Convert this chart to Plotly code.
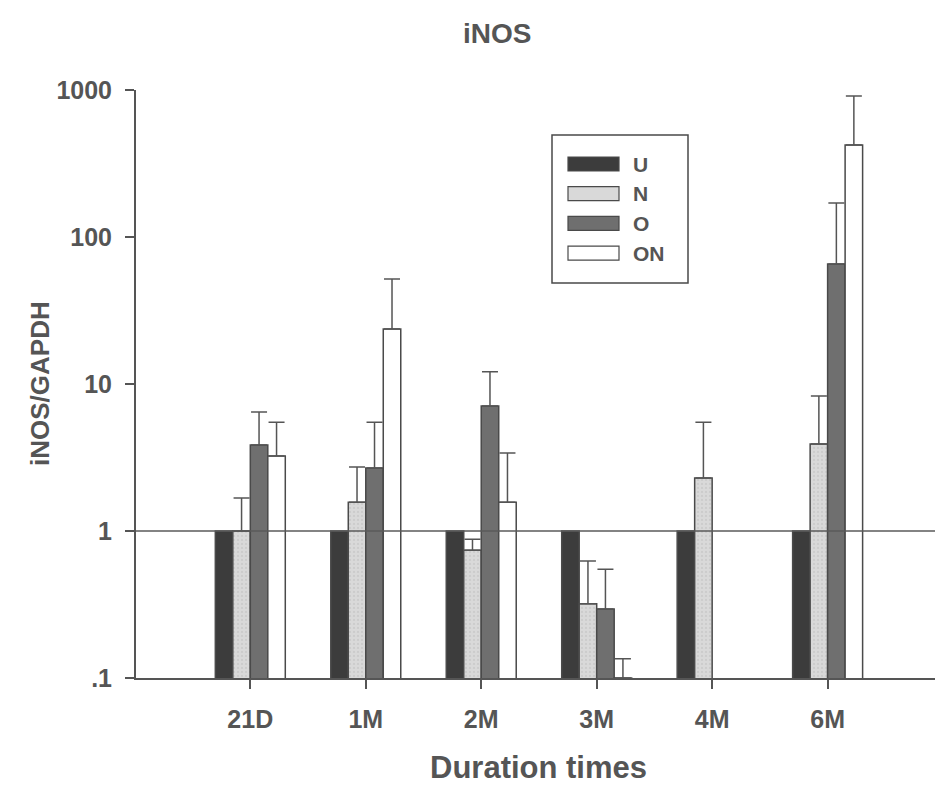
import plotly.graph_objects as go

# Sampling times and relative iNOS expression (normalised to U = 1)
durations = ["21D", "1M", "2M", "3M", "4M", "6M"]
groups = ["U", "N", "O", "ON"]

u_mean = [1, 1, 1, 1, 1, 1]
n_mean = [1.0, 1.57, 0.74, 0.32, 2.29, 3.9]
o_mean = [3.85, 2.68, 7.08, 0.295, None, 65.5]
on_mean = [3.24, 23.7, 1.57, 0.1, None, 423]

# upper limit of each error bar (mean + SD)
u_upper = [None] * 6
n_upper = [1.68, 2.72, 0.88, 0.625, 5.5, 8.3]
o_upper = [6.45, 5.5, 12.1, 0.55, None, 170]
on_upper = [5.5, 51.8, 3.39, 0.135, None, 910]

fills = ["#3c3c3c", "#d9d9d9", "#6f6f6f", "#ffffff"]
edge = "#4a4a4a"
ink = "#555555"
font_family = "Liberation Sans, Arial, sans-serif"

means = [u_mean, n_mean, o_mean, on_mean]
uppers = [u_upper, n_upper, o_upper, on_upper]

fig = go.Figure()
for name, ys, ups, col in zip(groups, means, uppers, fills):
    plus = [
        (up - y) if (up is not None and y is not None) else None
        for y, up in zip(ys, ups)
    ]
    bar = dict(
        x=durations,
        y=ys,
        name=name,
        marker=dict(color=col, line=dict(color=edge, width=1.5)),
        showlegend=False,
    )
    if name == "N":
        bar["marker"]["pattern"] = dict(shape=".", fgcolor="#bdbdbd", bgcolor=col,
                                        size=4, solidity=0.25)
    if any(p is not None for p in plus):
        bar["error_y"] = dict(type="data", symmetric=False, array=plus,
                              arrayminus=[0] * len(plus), color=ink,
                              thickness=1.5, width=8)
    fig.add_trace(go.Bar(**bar))

# Reference level at 1
fig.add_shape(type="line", xref="paper", yref="y", x0=0, x1=1, y0=1, y1=1,
              line=dict(color="#5a5a5a", width=1.5), layer="above")

# Legend box with wide swatches
L, T, PW, PH = 136, 90, 799, 588


def px(x):
    return (x - L) / PW


def py(y):
    return (T + PH - y) / PH


fig.add_shape(type="rect", xref="paper", yref="paper",
              x0=px(552), x1=px(688), y0=py(283), y1=py(135),
              line=dict(color=edge, width=1.5), fillcolor="white", layer="above")
for i, (name, col) in enumerate(zip(groups, fills)):
    cy = 164 + i * 29.7
    fig.add_shape(type="rect", xref="paper", yref="paper",
                  x0=px(568), x1=px(619), y0=py(cy + 7), y1=py(cy - 7),
                  line=dict(color=edge, width=1.2), fillcolor=col, layer="above")
    fig.add_annotation(x=px(631), y=py(cy), xref="paper", yref="paper",
                       text="<b>" + name + "</b>", showarrow=False,
                       xanchor="left", yanchor="middle",
                       font=dict(family=font_family, size=21, color=ink))

# Titles
fig.add_annotation(x=px(497), y=py(33), xref="paper", yref="paper", text="<b>iNOS</b>",
                   showarrow=False, xanchor="center", yanchor="middle",
                   font=dict(family=font_family, size=28, color=ink))
fig.add_annotation(x=px(538), y=py(767), xref="paper", yref="paper",
                   text="<b>Duration times</b>", showarrow=False,
                   xanchor="center", yanchor="middle",
                   font=dict(family=font_family, size=31, color=ink))
fig.add_annotation(x=px(40), y=py(384), xref="paper", yref="paper",
                   text="<b>iNOS/GAPDH</b>", showarrow=False, textangle=-90,
                   xanchor="center", yanchor="middle",
                   font=dict(family=font_family, size=26, color=ink))

fig.update_layout(
    width=935, height=787,
    margin=dict(l=L, r=0, t=T, b=787 - T - PH),
    paper_bgcolor="white", plot_bgcolor="white",
    barmode="group", bargap=0.394, bargroupgap=0,
    showlegend=False,
)
fig.update_xaxes(
    type="category", range=[-0.99, 5.93],
    showline=True, linecolor=ink, linewidth=2,
    ticks="outside", ticklen=9, tickwidth=1.5, tickcolor=ink,
    tickfont=dict(family=font_family, size=25, color=ink),
    ticklabelstandoff=9,
    tickprefix="<b>", ticksuffix="</b>",
    showgrid=False, zeroline=False, fixedrange=True,
)
fig.update_yaxes(
    type="log", range=[-1, 3],
    tickvals=[0.1, 1, 10, 100, 1000],
    ticktext=["<b>.1</b>", "<b>1</b>", "<b>10</b>", "<b>100</b>", "<b>1000</b>"],
    showline=True, linecolor=ink, linewidth=2,
    ticks="outside", ticklen=9, tickwidth=1.5, tickcolor=ink,
    tickfont=dict(family=font_family, size=25, color=ink),
    ticklabelstandoff=8,
    showgrid=False, zeroline=False, fixedrange=True,
)

fig.write_html("out.html")
